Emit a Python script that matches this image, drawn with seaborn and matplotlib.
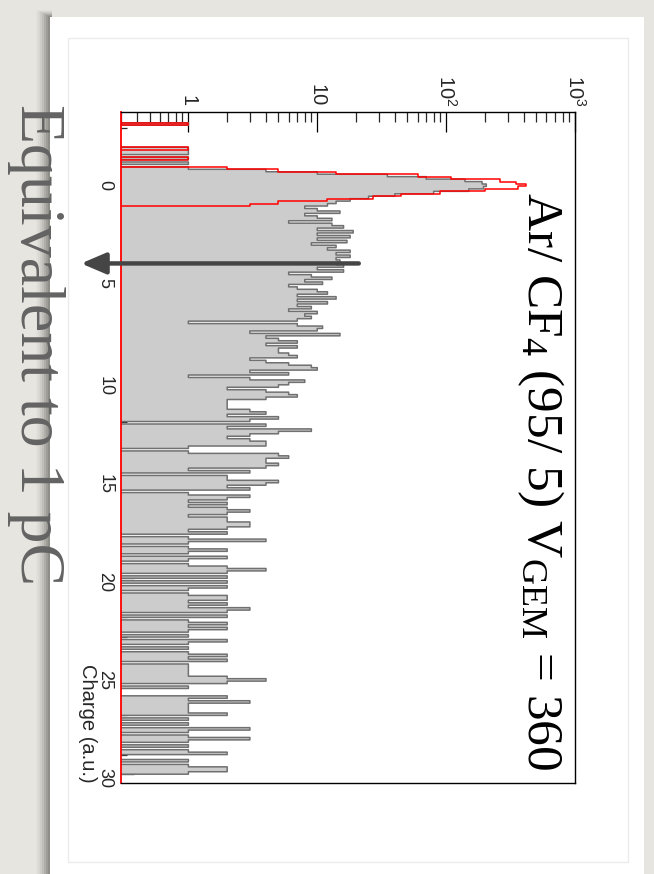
import numpy as np
import pandas as pd
import matplotlib
matplotlib.use("Agg")
import matplotlib.pyplot as plt
from matplotlib.patches import Rectangle
from matplotlib.ticker import (FixedLocator, FixedFormatter, LogLocator,
                               MultipleLocator, NullFormatter)
import seaborn as sns

# ---------------------------------------------------------------- data
# charge histograms, 0.125 a.u. bins starting at -3.75 a.u.
bin_start = -3.75
bin_width = 0.125

# all events: counts per bin, below the pedestal (-3.75 .. -1.0)
gray_below = [0, 0, 0, 0, 1, 0,
              0, 0, 0, 0, 0, 0, 0, 0,
              1, 1, 1, 0, 1, 0, 1, 0]
# pedestal peak (-1.0 .. 1.0)
gray_peak = [1, 4, 10, 35, 70, 140, 190, 205, 195, 150, 80, 40, 25, 18, 14, 12]
# signal tail (1.0 .. 30.5), one row per unit of charge
gray_tail = [
    [8, 10, 15, 8, 10, 13, 6, 13],
    [16, 10, 19, 10, 18, 10, 17, 9],
    [14, 12, 18, 14, 18, 14, 15, 14],
    [16, 10, 16, 6, 9, 13, 8, 11],
    [6, 7, 10, 12, 7, 14, 7, 12],
    [7, 9, 6, 10, 8, 9, 7, 1],
    [7, 11, 10, 3, 15, 4, 5, 7],
    [4, 7, 5, 5, 6, 7, 3, 4],
    [6, 9, 10, 3, 6, 1, 3, 8],
    [6, 5, 2, 4, 6, 7, 4, 2],
    [2, 2, 2, 3, 4, 2, 5, 3],
    [0, 4, 2, 9, 5, 3, 2, 3],
    [4, 4, 1, 0, 1, 5, 6, 4],
    [4, 5, 4, 1, 3, 0, 2, 2],
    [5, 4, 2, 3, 0, 1, 3, 2],
    [1, 2, 1, 2, 3, 2, 1, 2],
    [2, 3, 3, 2, 1, 2, 0, 1],
    [4, 1, 0, 1, 2, 1, 0, 2],
    [1, 0, 1, 2, 4, 2, 0, 2],
    [0, 2, 0, 2, 1, 0, 1, 2],
    [2, 1, 2, 1, 3, 2, 0, 2],
    [0, 1, 2, 1, 2, 1, 0, 1],
    [0, 2, 1, 0, 1, 0, 1, 2],
    [1, 2, 0, 1, 1, 1, 1, 1],
    [2, 4, 2, 0, 1, 0, 0, 0],
    [2, 1, 3, 1, 1, 1, 1, 2],
    [0, 1, 0, 1, 0, 3, 1, 0],
    [1, 3, 1, 0, 1, 0, 1, 2],
    [0, 0, 1, 0, 1, 2, 2, 1],
    [0, 0, 0, 0],
]

# pedestal-only events (red outline): below the pedestal and the peak
red_below = [0, 0, 0, 0, 1, 0,
             0, 0, 0, 0, 0, 0, 0, 0,
             1, 0, 0, 0, 1, 0, 0, 0]
red_peak = [2, 5, 14, 60, 110, 260, 350, 420, 360, 200, 90, 45, 27, 12, 5, 3]

count_ticks = [1, 10, 100, 1000]
count_labels = ["1", "10", r"$\mathdefault{10^{2}}$", r"$\mathdefault{10^{3}}$"]
charge_range = (-3.8, 30.45)
count_range = (0.3, 1000)

# threshold marker (arrow) at 1 pC equivalent
arrow_charge = 3.93
arrow_from = 21.0
arrow_to = 0.147

title = r"Ar/ CF$\mathdefault{_4}$ (95/ 5) V$\mathdefault{_{GEM}}$ = 360"
side_note = "Equivalent to 1 pC"
axis_title = "Charge (a.u.)"

# ---------------------------------------------------------------- table
gray = np.array(gray_below + gray_peak + sum(gray_tail, []), dtype=float)
red = np.zeros_like(gray)
red[:len(red_below) + len(red_peak)] = red_below + red_peak
n_bins = len(gray)
bin_end = bin_start + bin_width * n_bins
centers = bin_start + bin_width * (np.arange(n_bins) + 0.5)
hist_df = pd.DataFrame({"charge": centers, "all": gray, "pedestal": red})

# ---------------------------------------------------------------- figure
sns.set_style("ticks")
plt.rcParams["font.family"] = ["Liberation Sans", "DejaVu Sans"]

W, H = 654, 874
fig = plt.figure(figsize=(W / 100, H / 100), dpi=100)
fig.patch.set_facecolor("#e7e5e0")


def fx(px):
    return px / W


def fy(py):
    return 1 - py / H


def fig_rect(x0, y0, x1, y1, **kw):
    fig.add_artist(Rectangle((fx(x0), fy(y1)), fx(x1) - fx(x0), (y1 - y0) / H,
                             transform=fig.transFigure, **kw))


# slide card with a soft shadow on its left / top edge
for i, a in enumerate([0.04, 0.07, 0.1, 0.14, 0.19, 0.25, 0.32]):
    fig_rect(36 + 2 * i, 10 + i, 52, 880, facecolor="#6d6c69", alpha=a,
             edgecolor="none", zorder=-20)
fig_rect(50, 17, 644, 880, facecolor="white", edgecolor="none", zorder=-10)
fig_rect(68, 38, 628, 862, facecolor="none", edgecolor="#ebebeb",
         linewidth=1.0, zorder=-9)

ax = fig.add_axes([fx(121), fy(783), fx(575) - fx(121), (783 - 112) / H])
ax.set_facecolor("white")

hist_bins = dict(binwidth=bin_width, binrange=(bin_start, bin_end))
sns.histplot(data=hist_df, y="charge", weights="all", element="step",
             fill=True, facecolor="#cccccc", edgecolor="#707070", alpha=1,
             linewidth=1.1, ax=ax, **hist_bins)
sns.histplot(data=hist_df, y="charge", weights="pedestal", element="step",
             fill=False, color="#ff0000", linewidth=1.1, ax=ax, **hist_bins)

ax.set_xscale("log", nonpositive="clip")
ax.set_xlim(*count_range)
ax.set_ylim(charge_range[1], charge_range[0])
ax.set_xlabel("")
ax.set_ylabel("")

ax.xaxis.tick_top()
ax.xaxis.set_major_locator(FixedLocator(count_ticks))
ax.xaxis.set_major_formatter(FixedFormatter(count_labels))
ax.xaxis.set_minor_locator(LogLocator(base=10, subs=np.arange(2, 10)))
ax.xaxis.set_minor_formatter(NullFormatter())
ax.tick_params(axis="x", which="major", direction="in", length=14.4,
               width=0.9, color="black", top=True, bottom=False,
               labeltop=True, labelbottom=False, pad=4, labelrotation=-90,
               labelsize=14.5)
ax.tick_params(axis="x", which="minor", direction="in", length=7.5,
               width=0.9, top=True, bottom=False)

ax.yaxis.set_major_locator(MultipleLocator(5))
ax.yaxis.set_minor_locator(MultipleLocator(1))
ax.tick_params(axis="y", which="major", direction="in", length=9.4,
               width=0.9, color="black", left=True, right=False, pad=5.5,
               labelrotation=-90, labelsize=13)
ax.tick_params(axis="y", which="minor", direction="in", length=4.5,
               width=0.9, left=True, right=False)

for side in ["top", "right", "bottom"]:
    ax.spines[side].set_color("black")
    ax.spines[side].set_linewidth(1.0)
ax.spines["left"].set_color("#ff0000")
ax.spines["left"].set_linewidth(1.3)

ax.text((87 - 121) / 454, 0.0, axis_title, transform=ax.transAxes,
        rotation=-90, ha="center", va="bottom", fontsize=14.5)

ax.annotate("", xy=(arrow_to, arrow_charge), xytext=(arrow_from, arrow_charge),
            arrowprops=dict(arrowstyle="-|>,head_length=0.75,head_width=0.32",
                            mutation_scale=20, color="#454545", lw=3.2,
                            shrinkA=0, shrinkB=0),
            annotation_clip=False, zorder=5)

serif = ["Liberation Serif", "DejaVu Serif"]
fig.text(fx(540), fy(481), title, rotation=-90, ha="center", va="center",
         fontsize=37, family=serif, color="black")
fig.text(fx(36), fy(345), side_note, rotation=-90, ha="center", va="center",
         fontsize=46, family=serif, color="#636363")

fig.savefig("out.png", dpi=100, facecolor=fig.get_facecolor())
